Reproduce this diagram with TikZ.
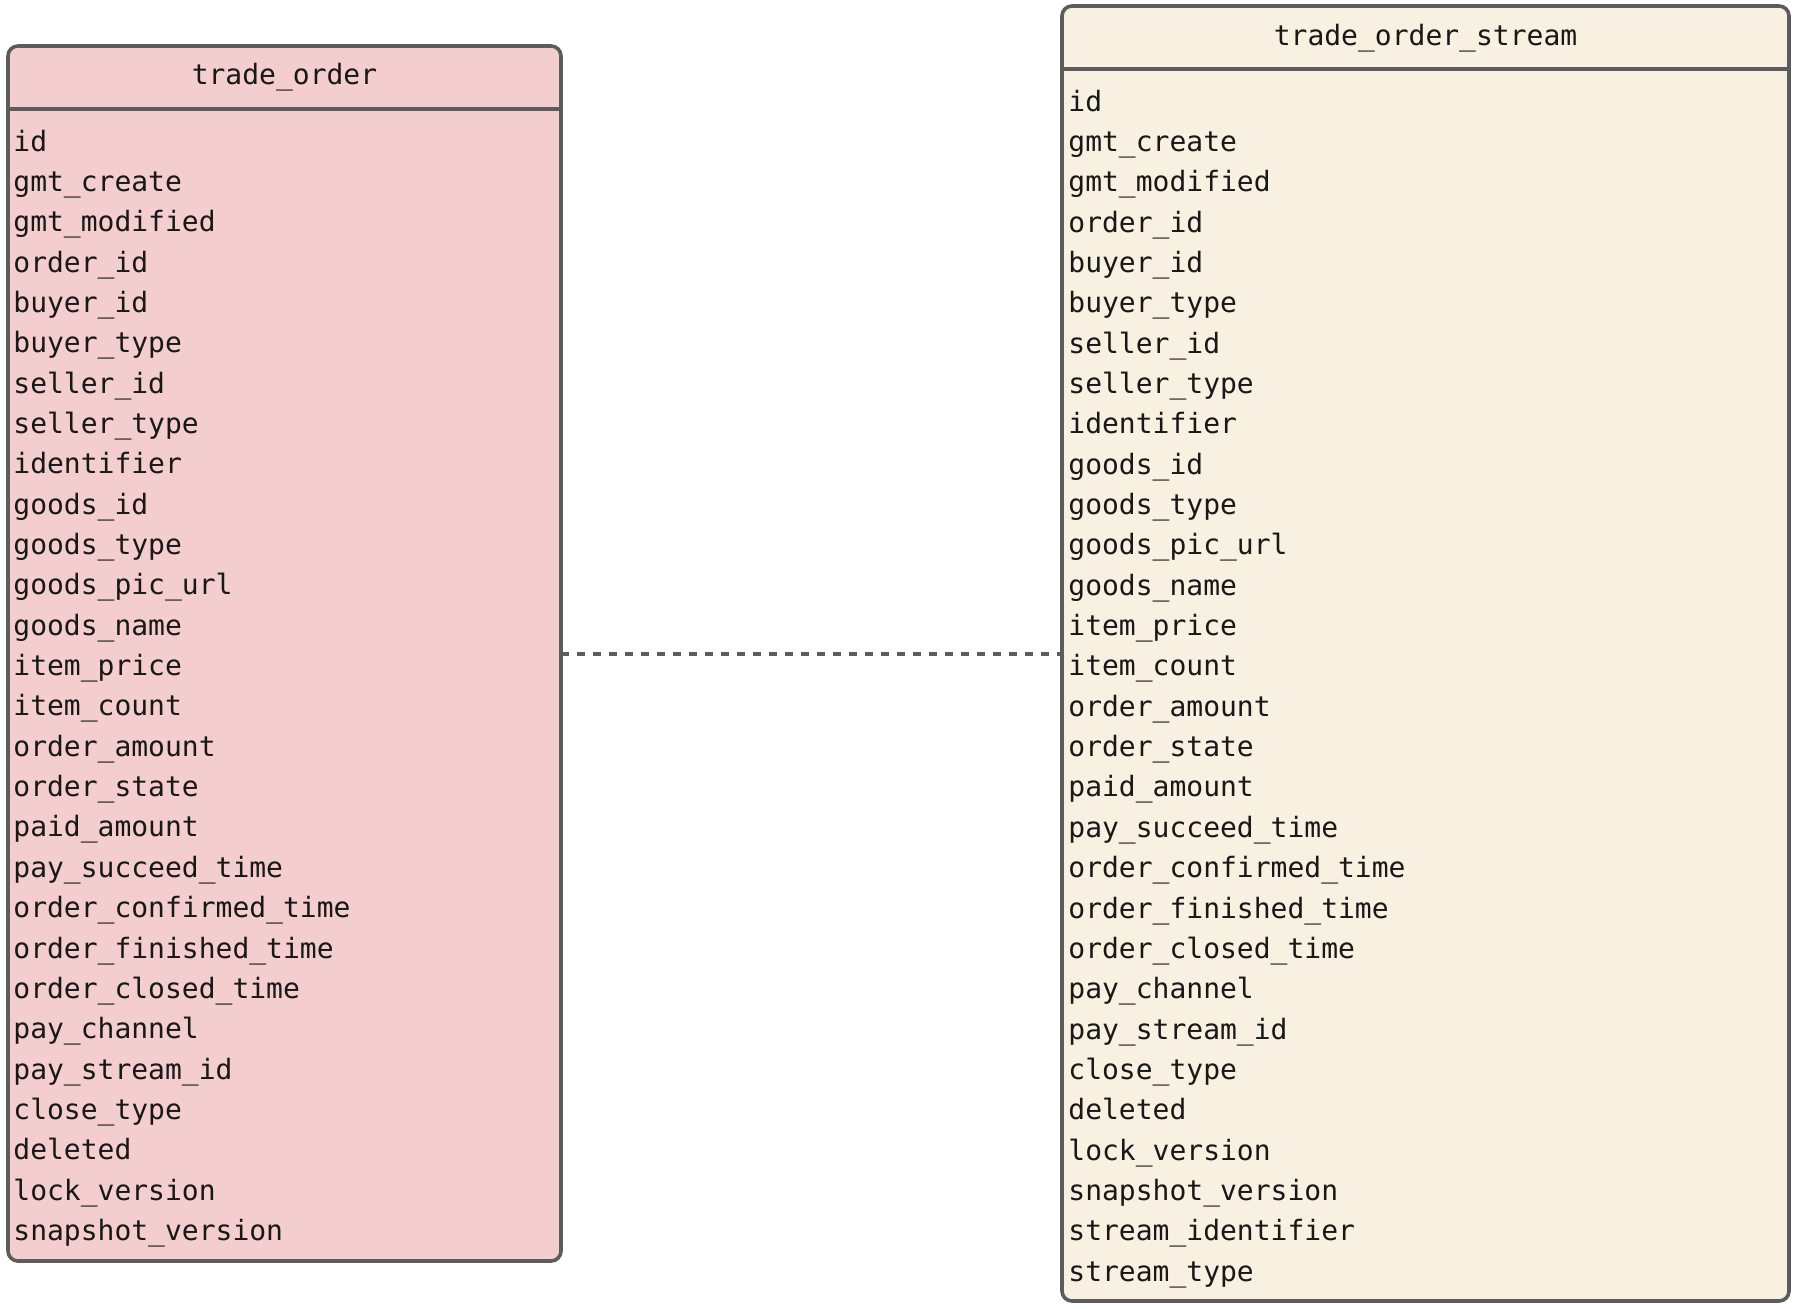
\documentclass[tikz,border=0pt]{standalone}
\usepackage{fontspec}
\setmonofont{DejaVu Sans Mono}
\usetikzlibrary{positioning}
\definecolor{O}{RGB}{244,205,206}
\definecolor{S}{RGB}{248,240,224}
\definecolor{E}{RGB}{92,92,92}
\definecolor{T}{RGB}{24,24,24}
\tikzstyle{tablebox} = [draw=E, line width=1.8pt, rounded corners=5pt,
inner sep=0pt, outer sep=0pt]
\tikzstyle{field} = [anchor=base west, inner sep=0pt,
font=\ttfamily\fontsize{14}{16}\selectfont, text=T]
\tikzstyle{title} = [field, anchor=base]
\tikzstyle{divider} = [draw=E, line width=1.8pt]
\tikzstyle{link} = [draw=E, line width=2pt, dash pattern=on 4pt off 4pt]

\begin{document}
\begin{tikzpicture}[x=0.5pt,y=-0.5pt]
        \useasboundingbox (0,0) rectangle (1802,1308);
        % trade_order
        \node[tablebox, fill=O, minimum width=276.5pt, minimum height=607.5pt] (order) at (284.5,653.5) {};
        \draw[divider] ([yshift=-31.5pt]order.north west) -- ([yshift=-31.5pt]order.north east);
        \node[title] (order-title) at (284.5,84) {trade\_order};
        \foreach \F [count=\i] in
          {id,gmt\_create,gmt\_modified,order\_id,buyer\_id,buyer\_type,
          seller\_id,seller\_type,identifier,goods\_id,goods\_type,
          goods\_pic\_url,goods\_name,item\_price,item\_count,order\_amount,
          order\_state,paid\_amount,pay\_succeed\_time,order\_confirmed\_time,
          order\_finished\_time,order\_closed\_time,pay\_channel,
          pay\_stream\_id,close\_type,deleted,lock\_version,snapshot\_version}
          {\node[field] (order-\i) at (13,{151+40.35*(\i-1)}) {\F};}
        % trade_order_stream
        \node[tablebox, fill=S, minimum width=363.5pt, minimum height=647.5pt] (stream) at (1425.5,653.5) {};
        \draw[divider] ([yshift=-31.5pt]stream.north west) -- ([yshift=-31.5pt]stream.north east);
        \node[title] (stream-title) at (1425.5,45) {trade\_order\_stream};
        \foreach \F [count=\i] in
          {id,gmt\_create,gmt\_modified,order\_id,buyer\_id,buyer\_type,
          seller\_id,seller\_type,identifier,goods\_id,goods\_type,
          goods\_pic\_url,goods\_name,item\_price,item\_count,order\_amount,
          order\_state,paid\_amount,pay\_succeed\_time,order\_confirmed\_time,
          order\_finished\_time,order\_closed\_time,pay\_channel,
          pay\_stream\_id,close\_type,deleted,lock\_version,snapshot\_version,
          stream\_identifier,stream\_type}
          {\node[field] (stream-\i) at (1068,{111+40.35*(\i-1)}) {\F};}
        % relation
        \draw[link] (order.east) -- (stream.west);
      \end{tikzpicture}
\end{document}
